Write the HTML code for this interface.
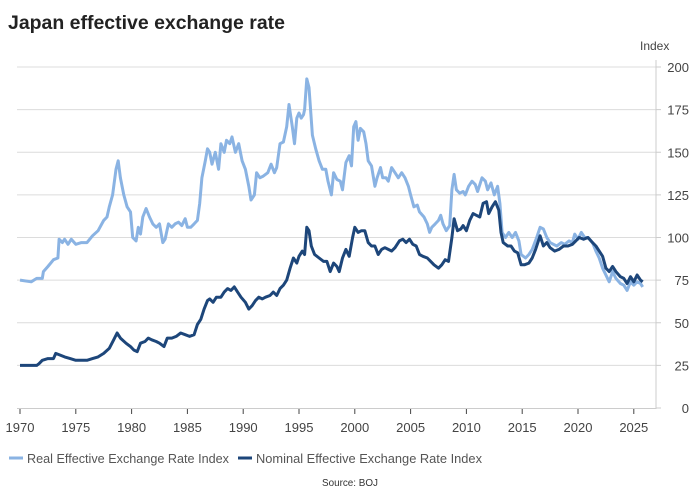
<!DOCTYPE html>
<html><head><meta charset="utf-8"><style>
body{margin:0;background:#fff;}
svg{display:block;font-family:"Liberation Sans",sans-serif;}
</style></head><body>
<svg id="chart" width="700" height="500" viewBox="0 0 700 500">
<text x="8" y="29" font-size="19" font-weight="bold" fill="#222" textLength="277" lengthAdjust="spacingAndGlyphs">Japan effective exchange rate</text>
<text x="640" y="50" font-size="12" fill="#444">Index</text>
<g id="grid"></g><g id="axes"></g><g id="series"></g>
<g>
<rect x="9" y="456.5" width="14" height="3" fill="#8ab3e3"/>
<text x="27" y="463" font-size="13" fill="#555" textLength="202" lengthAdjust="spacingAndGlyphs">Real Effective Exchange Rate Index</text>
<rect x="238" y="456.5" width="14" height="3" fill="#1d467a"/>
<text x="256" y="463" font-size="13" fill="#555" textLength="226" lengthAdjust="spacingAndGlyphs">Nominal Effective Exchange Rate Index</text>
</g>
<text x="322" y="486" font-size="10.5" fill="#333" textLength="56" lengthAdjust="spacingAndGlyphs">Source: BOJ</text>
</svg>
<script>
const xTicks=[1970,1975,1980,1985,1990,1995,2000,2005,2010,2015,2020,2025];
const yTicks=[0,25,50,75,100,125,150,175,200];
const realYears=[1970,1971,1971.5,1972,1972.1,1972.5,1973,1973.4,1973.5,1973.8,1974,1974.3,1974.6,1975,1975.5,1976,1976.5,1977,1977.5,1977.8,1978,1978.3,1978.6,1978.8,1979,1979.3,1979.6,1979.9,1980.1,1980.4,1980.6,1980.8,1981,1981.3,1981.6,1981.9,1982.2,1982.5,1982.8,1983,1983.3,1983.6,1983.9,1984.2,1984.5,1984.8,1985,1985.3,1985.6,1985.9,1986.1,1986.3,1986.6,1986.8,1987,1987.2,1987.5,1987.8,1988,1988.3,1988.5,1988.8,1989,1989.3,1989.6,1989.9,1990.2,1990.5,1990.7,1991,1991.2,1991.5,1991.8,1992.2,1992.5,1992.8,1993,1993.3,1993.6,1993.9,1994.1,1994.4,1994.6,1994.8,1995,1995.2,1995.4,1995.5,1995.7,1995.9,1996.2,1996.5,1996.8,1997.1,1997.4,1997.6,1997.9,1998.1,1998.4,1998.7,1998.9,1999.2,1999.5,1999.7,1999.9,2000.1,2000.3,2000.5,2000.8,2001,2001.2,2001.5,2001.8,2002,2002.3,2002.5,2002.8,2003,2003.3,2003.6,2003.9,2004.2,2004.5,2004.8,2005,2005.3,2005.6,2005.8,2006.2,2006.5,2006.7,2006.9,2007.2,2007.5,2007.7,2007.9,2008.2,2008.5,2008.7,2008.9,2009.1,2009.4,2009.7,2009.9,2010.2,2010.5,2010.8,2011,2011.4,2011.7,2011.9,2012.2,2012.5,2012.8,2013,2013.2,2013.5,2013.8,2014.1,2014.4,2014.7,2014.9,2015.3,2015.6,2015.9,2016.3,2016.6,2016.9,2017.2,2017.5,2017.8,2018.1,2018.5,2018.8,2019.2,2019.5,2019.7,2020,2020.3,2020.6,2020.9,2021.3,2021.6,2021.9,2022.2,2022.5,2022.8,2023.1,2023.4,2023.8,2024.1,2024.4,2024.7,2025,2025.3,2025.6,2025.8];
const realValues=[75,74,76,76,80,83,87,88,99,97,99,96,99,96,97,97,101,104,110,112,118,125,140,145,135,125,118,115,100,98,106,102,112,117,112,108,106,108,97,99,108,106,108,109,107,111,106,106,108,110,120,135,145,152,150,143,150,140,155,150,157,155,159,150,155,145,140,130,122,125,138,135,136,138,143,138,141,155,156,165,178,165,155,170,173,170,172,175,193,188,160,152,145,140,140,133,125,138,134,133,128,144,148,142,165,168,157,164,162,155,145,142,130,135,141,135,135,133,141,138,135,138,135,130,125,118,119,115,112,108,103,106,108,110,113,108,104,107,128,137,128,126,127,125,130,133,131,127,135,133,128,132,125,130,120,103,100,103,100,103,98,90,88,90,93,100,106,105,100,97,96,95,97,96,98,97,102,99,103,100,100,97,92,88,82,78,74,80,76,73,72,69,74,72,74,73,71];
const nomYears=[1970,1971.5,1971.7,1972,1972.5,1973,1973.2,1973.6,1974,1974.5,1975,1975.5,1976,1976.5,1977,1977.5,1978,1978.4,1978.7,1979,1979.5,1979.9,1980.2,1980.5,1980.8,1981.2,1981.5,1981.8,1982.2,1982.5,1982.9,1983.2,1983.6,1984,1984.4,1984.8,1985.2,1985.6,1985.9,1986.2,1986.5,1986.8,1987,1987.3,1987.6,1988,1988.3,1988.6,1988.9,1989.2,1989.5,1989.8,1990.2,1990.5,1990.8,1991.1,1991.4,1991.7,1992,1992.4,1992.7,1993,1993.3,1993.6,1993.9,1994.2,1994.5,1994.8,1995,1995.3,1995.5,1995.7,1995.9,1996.1,1996.4,1996.8,1997.2,1997.5,1997.8,1998.1,1998.4,1998.6,1998.9,1999.2,1999.5,1999.8,2000,2000.3,2000.6,2000.9,2001.2,2001.5,2001.8,2002.1,2002.4,2002.7,2003,2003.3,2003.6,2004,2004.3,2004.6,2004.9,2005.2,2005.5,2005.8,2006.1,2006.5,2006.8,2007.1,2007.5,2007.8,2008.1,2008.4,2008.7,2008.9,2009.2,2009.5,2009.7,2010,2010.3,2010.6,2010.9,2011.2,2011.5,2011.8,2012,2012.3,2012.6,2012.9,2013.1,2013.3,2013.7,2014,2014.3,2014.6,2014.9,2015.2,2015.6,2015.9,2016.2,2016.6,2016.9,2017.2,2017.5,2017.9,2018.3,2018.7,2019.1,2019.5,2019.8,2020.1,2020.5,2020.9,2021.3,2021.6,2021.9,2022.2,2022.5,2022.8,2023.1,2023.4,2023.8,2024.1,2024.4,2024.7,2025,2025.3,2025.6,2025.8];
const nomValues=[25,25,26,28,29,29,32,31,30,29,28,28,28,29,30,32,35,40,44,41,38,36,34,33,38,39,41,40,39,38,36,41,41,42,44,43,42,43,49,52,58,63,64,62,65,65,68,70,69,71,68,65,62,58,60,63,65,64,65,66,68,66,70,72,75,82,88,85,89,92,90,106,104,95,90,88,86,86,80,85,83,80,88,93,89,100,106,103,104,104,97,95,95,90,93,94,93,92,94,98,99,97,99,96,95,90,89,88,86,84,82,84,87,86,100,111,104,105,107,104,110,114,113,112,120,121,114,118,121,116,103,97,95,95,92,91,84,84,85,88,93,101,95,97,94,92,93,95,95,96,98,100,99,100,97,95,92,89,82,80,83,80,77,76,73,77,74,78,75,74];

const NS='http://www.w3.org/2000/svg';
const X0=20,PX=11.16,Y0=408,PY=341/200,XR=656;
function xs(y){return X0+(y-1970)*PX;}
function ys(v){return Y0-v*PY;}
function mk(t,a,p){const e=document.createElementNS(NS,t);for(const k in a)e.setAttribute(k,a[k]);p.appendChild(e);return e;}
const grid=document.getElementById('grid'),axes=document.getElementById('axes'),series=document.getElementById('series');
yTicks.forEach(v=>{
  if(v>0){const g=mk('line',{x1:17,x2:XR,y1:ys(v),y2:ys(v),stroke:'#dcdcdc','stroke-width':1},grid);
  
  }
  const tk=mk('line',{x1:XR,x2:XR+5,y1:ys(v),y2:ys(v),stroke:'#ccc'},axes);
  
  
  const t=mk('text',{x:689,y:ys(v)+5,'font-size':13,fill:'#444','text-anchor':'end'},axes);
  t.textContent=v;
  
  
});
const ya=mk('line',{x1:XR,x2:XR,y1:60,y2:409,stroke:'#ccc'},axes);


const xa=mk('line',{x1:17,x2:XR,y1:408.5,y2:408.5,stroke:'#ccc'},axes);


xTicks.forEach(yr=>{
  const tk=mk('line',{x1:xs(yr),x2:xs(yr),y1:409,y2:414,stroke:'#444'},axes);
  
  
  const t=mk('text',{x:xs(yr),y:432,'font-size':13,fill:'#444','text-anchor':'middle'},axes);
  t.textContent=yr;
  
  
});
function line(yrs,vals,col){return mk('path',{d:yrs.map((y,i)=>(i?'L':'M')+xs(y).toFixed(1)+','+ys(vals[i]).toFixed(1)).join(''),fill:'none',stroke:col,'stroke-width':3,'stroke-linejoin':'round'},series);}
const r=line(realYears,realValues,'#8ab3e3');


const n=line(nomYears,nomValues,'#1d467a');


</script>
</body></html>
